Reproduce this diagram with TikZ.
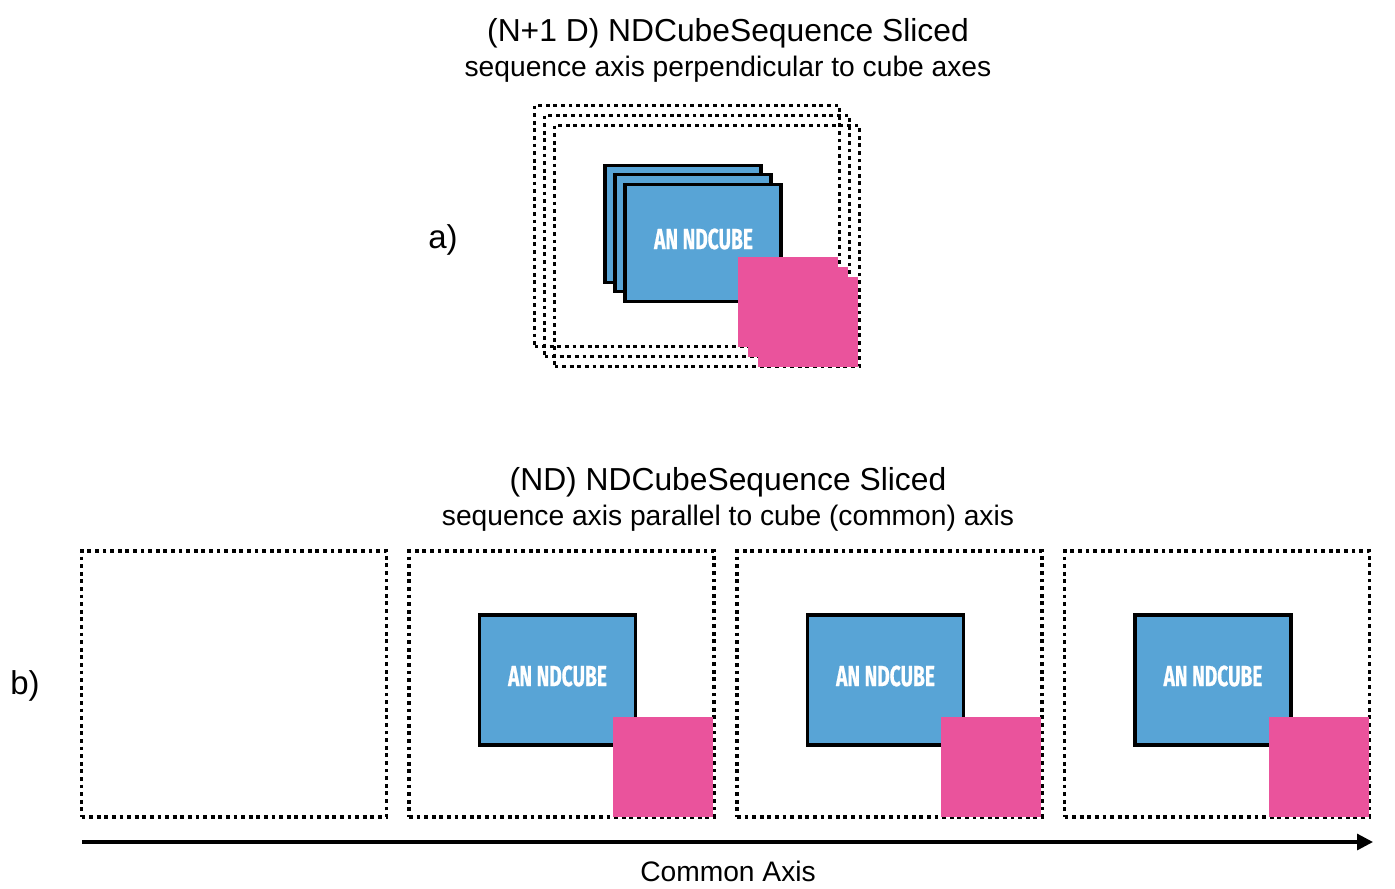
\documentclass[tikz,border=0pt]{standalone}
\usepackage{fontspec}
\setmainfont{Liberation Sans}
\newfontfamily\condfont[FakeStretch=0.66,FakeBold=0.6]{Fira Sans}
\usetikzlibrary{arrows.meta}
\definecolor{cubeblue}{HTML}{58A4D6}
\definecolor{mask}{HTML}{EA539C}
\tikzset{
  x=0.5pt, y=-0.5pt,
  dotbox/.style={draw=black, line width=1.9pt, dash pattern=on 1.9pt off 1.9pt, minimum width=152.5pt, inner sep=0pt, outer sep=0pt, rectangle},
  cubebox/.style={draw=black, fill=cubeblue, line width=1.8pt, minimum width=78pt, inner sep=0pt, outer sep=0pt, rectangle},
  cubetext/.style={font=\condfont\fontsize{14.5}{15}\selectfont\bfseries, text=white, inner sep=0pt},
  maskbox/.style={fill=mask, minimum width=50pt, inner sep=0pt, outer sep=0pt, rectangle},
  title/.style={font=\fontsize{15.9}{18}\selectfont, inner sep=0pt},
  subtitle/.style={font=\fontsize{14.1}{16}\selectfont, inner sep=0pt},
  lbl/.style={font=\fontsize{16.5}{18}\selectfont, inner sep=0pt},
}
\begin{document}
\begin{tikzpicture}
\useasboundingbox (0,0) rectangle (1395,888);
% ---------- a) ----------
\node[title] (ta) at (728,33) {(N+1 D) NDCubeSequence Sliced};
\node[subtitle] (sa) at (728,69) {sequence axis perpendicular to cube axes};
\node[lbl] (la) at (443,240) {a)};
\node[dotbox, minimum height=120.5pt] (a1) at (687,226) {};
\node[dotbox, minimum height=120.5pt] (a2) at (697,236) {};
\node[dotbox, minimum height=120.5pt] (a3) at (707,246) {};
\node[cubebox, minimum height=58.5pt] (c1) at (683,224) {};
\node[cubebox, minimum height=58.5pt] (c2) at (693,233) {};
\node[cubebox, minimum height=58.5pt] (c3) at (703,243) {};
\node[cubetext] (t3) at (703.5,239) {AN NDCUBE};
\node[maskbox, minimum height=45pt] (p1) at (788,302) {};
\node[maskbox, minimum height=45pt] (p2) at (798,312) {};
\node[maskbox, minimum height=45pt] (p3) at (808,322) {};
% ---------- b) ----------
\node[title] (tb) at (728,482) {(ND) NDCubeSequence Sliced};
\node[subtitle] (sb) at (728,518) {sequence axis parallel to cube (common) axis};
\node[lbl] (lb) at (25,686) {b)};
\node[dotbox, minimum height=133pt] (b1) at (234,684) {};
\foreach \i/\cx in {2/561.5, 3/889.5, 4/1217} {
  \node[dotbox, minimum height=133pt] (b\i) at (\cx,684) {};
  \node[cubebox, minimum height=65pt] (q\i) at ([xshift=-2pt,yshift=2pt]b\i.center) {};
  \node[cubetext] (qt\i) at ([xshift=-2pt,yshift=4pt]b\i.center) {AN NDCUBE};
  \node[maskbox, minimum height=50pt] (m\i) at ([xshift=50.75pt,yshift=-41.5pt]b\i.center) {};
}
\coordinate (axs) at (82,842);
\coordinate (axe) at (1373,842);
\draw[line width=1.6pt, -{Triangle[length=8pt,width=8pt]}] (axs) -- (axe);
\node[subtitle] (ca) at (728,871) {Common Axis};
\end{tikzpicture}
\end{document}
